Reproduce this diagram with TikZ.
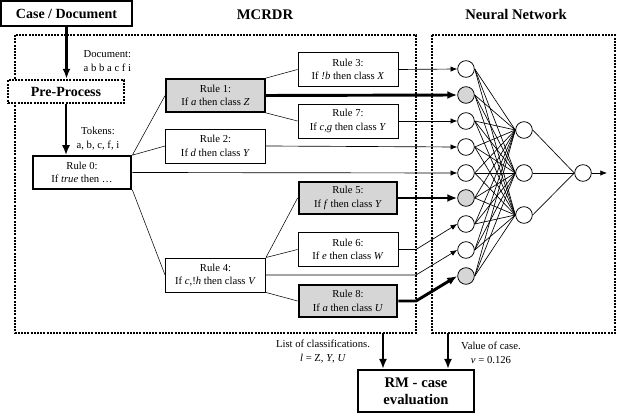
\documentclass[tikz,border=0pt]{standalone}
\usepackage{fontspec}
\setmainfont{Liberation Serif}
\usetikzlibrary{arrows.meta}

\begin{document}
\begin{tikzpicture}[x=0.75pt,y=-0.75pt,>=Latex,
  rulebox/.style={draw,fill=white,line width=0.7pt,minimum width=75pt,minimum height=25.5pt,inner sep=1pt,align=center,font=\fontsize{8}{10}\selectfont},
  firedbox/.style={rulebox,fill=black!16,line width=1.6pt,minimum width=74pt,minimum height=24.5pt},
  bigbox/.style={draw,fill=white,line width=1.6pt,align=center,font=\fontsize{10.5}{12.5}\selectfont\bfseries},
  frame/.style={line width=1.6pt,dash pattern=on 1.5pt off 0.9pt},
  neuron/.style={draw,circle,fill=white,minimum size=12.5pt,inner sep=0pt,line width=0.6pt},
  synapse/.style={line width=0.5pt},
  link/.style={->,line width=0.5pt,>={Latex[length=5pt,width=4pt]}},
  heavy/.style={->,line width=2.2pt,>={Latex[length=7.5pt,width=6pt]}},
  flow/.style={->,line width=1.8pt,>={Latex[length=7.5pt,width=6pt]}},
  lbl/.style={font=\fontsize{8}{10.5}\selectfont,align=center}]
\useasboundingbox (0,0) rectangle (624,416);
% dotted frames
\draw[frame](15,35) rectangle (416,333);
\draw[frame](432,35) rectangle (615,333);
\coordinate (bend) at (416,0);
\coordinate (lfoot) at (383,333);
\coordinate (rfoot) at (448,333);
% titles
\node[font=\fontsize{11}{12}\selectfont\bfseries] (mcrdr) at (265,15) {MCRDR};
\node[font=\fontsize{11}{12}\selectfont\bfseries] (nn) at (516,15) {Neural Network};
% case and pre-processing
\node[bigbox,minimum width=98pt,minimum height=18.5pt] (case) at (66.5,13.5) {Case / Document};
\node[bigbox,frame,minimum width=87pt,minimum height=17.5pt] (pre) at (66,91.5) {Pre-Process};
\node[lbl,align=left,anchor=west] (doc) at (79,61) {Document:\\a b b a c f i};
\node[lbl] (tok) at (98,139) {Tokens:\\a, b, c, f, i};
% MCRDR rules
\node[rulebox,line width=1.5pt,minimum width=74pt,minimum height=24.5pt] (rule0) at (82,172.5) {Rule 0:\\If \textit{true} then \ldots};
\node[firedbox] (rule1) at (215.5,95.5) {Rule 1:\\If \textit{a} then class \textit{Z}};
\node[rulebox] (rule2) at (215.5,146) {Rule 2:\\If \textit{d} then class \textit{Y}};
\node[rulebox] (rule3) at (348,69.5) {Rule 3:\\If \textit{!b} then class \textit{X}};
\node[rulebox] (rule7) at (348,121) {Rule 7:\\If \textit{c},\textit{g} then class \textit{Y}};
\node[firedbox] (rule5) at (348,198) {Rule 5:\\If \textit{f} then class \textit{Y}};
\node[rulebox] (rule6) at (348,249.5) {Rule 6:\\If \textit{e} then class \textit{W}};
\node[rulebox] (rule4) at (215.5,275) {Rule 4:\\If \textit{c},!\textit{h} then class \textit{V}};
\node[firedbox] (rule8) at (348,301) {Rule 8:\\If \textit{a} then class \textit{U}};
\draw(rule0.north east)--(rule1.west)
(rule0.north east)--(rule2.west)
(rule0.south east)--(rule4.west)
(rule1.north east)--(rule3.west)
(rule1.south east)--(rule7.west)
(rule4.north east)--(rule5.west)
(rule4.north east)--(rule6.west)
(rule4.south east)--(rule8.west);
% neural network
\foreach \i/\y/\c in {1/69/white,2/95/black!16,3/121/white,4/147/white,5/173/white,6/198/black!16,7/224/white,8/250/white,9/276/black!16}
  \node[neuron,fill=\c] (in\i) at (466,\y) {};
\foreach \h/\y in {1/130,2/173,3/215}
  \node[neuron] (hid\h) at (524,\y) {};
\node[neuron] (out) at (583,173) {};
\coordinate (res) at (607,173);
\foreach \i in {1,...,9}
  \foreach \h in {1,2,3}
    \draw[synapse](in\i.east)--(hid\h.west);
\foreach \h in {1,2,3}
  \draw[synapse](hid\h.east)--(out.west);
\draw[link](out)--(res);
% rules into the network
\draw[link](rule3.east)--(in1.west);
\draw[heavy](rule1.east)--(in2.west);
\draw[link](rule7.east)--(in3.west);
\draw[link](rule2.east)--(in4.west);
\draw[link](rule0.east)--(in5.west);
\draw[heavy](rule5.east)--(in6.west);
\draw[link](rule6.east)--(rule6.east -| bend)--(in7.west);
\draw[link](rule4.east)--(rule4.east -| bend)--(in8.west);
\draw[heavy](rule8.east)--(rule8.east -| bend)--(in9.west);
% evaluation
\node[bigbox,font=\fontsize{11}{12.75}\selectfont\bfseries,minimum width=87pt,minimum height=31.5pt] (rm) at (416,391) {RM - case\\evaluation};
\node[lbl] (list) at (323,352) {List of classifications.\\\textit{l} = Z, \textit{Y}, \textit{U}};
\node[lbl] (val) at (491,353) {Value of case.\\\textit{v} = 0.126};
\draw[flow](case.south)--(case.south |- pre.north);
\draw[flow](pre.south)--(pre.south |- rule0.north);
\draw[flow](lfoot)--(lfoot |- rm.north);
\draw[flow](rfoot)--(rfoot |- rm.north);
\end{tikzpicture}
\end{document}
